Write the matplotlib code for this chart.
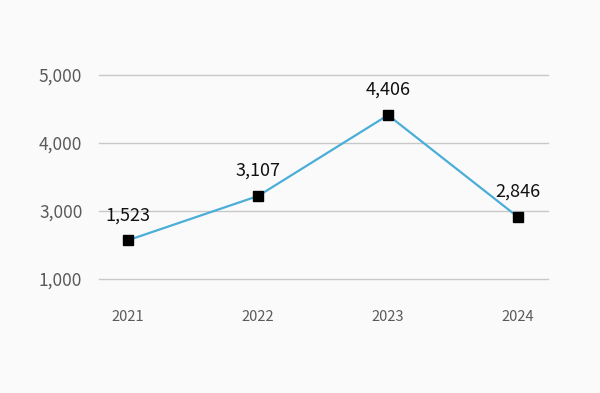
import matplotlib
matplotlib.use("Agg")
import matplotlib.pyplot as plt

plt.rcParams['font.family'] = ['Noto Sans CJK KR', 'DejaVu Sans']

# Data
years = ['2021', '2022', '2023', '2024']
values = [1523, 3107, 4406, 2846]
# vertical position of each point as drawn in the chart (axis units)
y_drawn = [2570, 3220, 4410, 2910]
y_ticks = [2000, 3000, 4000, 5000]
y_tick_labels = ['1,000', '3,000', '4,000', '5,000']

bg = '#fafafa'
fig = plt.figure(figsize=(6, 3.93), dpi=100, facecolor=bg)
ax = fig.add_axes([0.165, 0.2901, 0.7483, 0.5191], facecolor=bg)

x = list(range(len(years)))
ax.plot(x, y_drawn, color='#4aaed9', linewidth=1.6, zorder=3, clip_on=False)
ax.plot(x, y_drawn, linestyle='none', marker='s', markersize=6.5,
        color='black', zorder=4, clip_on=False)

for xi, yi, v in zip(x, y_drawn, values):
    ax.annotate(f'{v:,}', (xi, yi), xytext=(0, 18), textcoords='offset points',
                ha='center', va='center', fontsize=13, color='#111111')

ax.set_xlim(-0.223, 3.23)
ax.set_ylim(2000, 5000)
ax.set_xticks(x)
ax.set_xticklabels(years)
ax.set_yticks(y_ticks)
ax.set_yticklabels(y_tick_labels)
ax.tick_params(axis='y', length=0, pad=12, labelsize=12.5, labelcolor='#5a5a5a')
ax.tick_params(axis='x', length=0, pad=22, labelsize=10.5, labelcolor='#5a5a5a')

ax.grid(axis='y', color='#c8c8c8', linewidth=1)
for gl in ax.get_ygridlines():
    gl.set_clip_on(False)
ax.set_axisbelow(True)
for s in ax.spines.values():
    s.set_visible(False)

fig.savefig('out.png', dpi=100, facecolor=bg)
